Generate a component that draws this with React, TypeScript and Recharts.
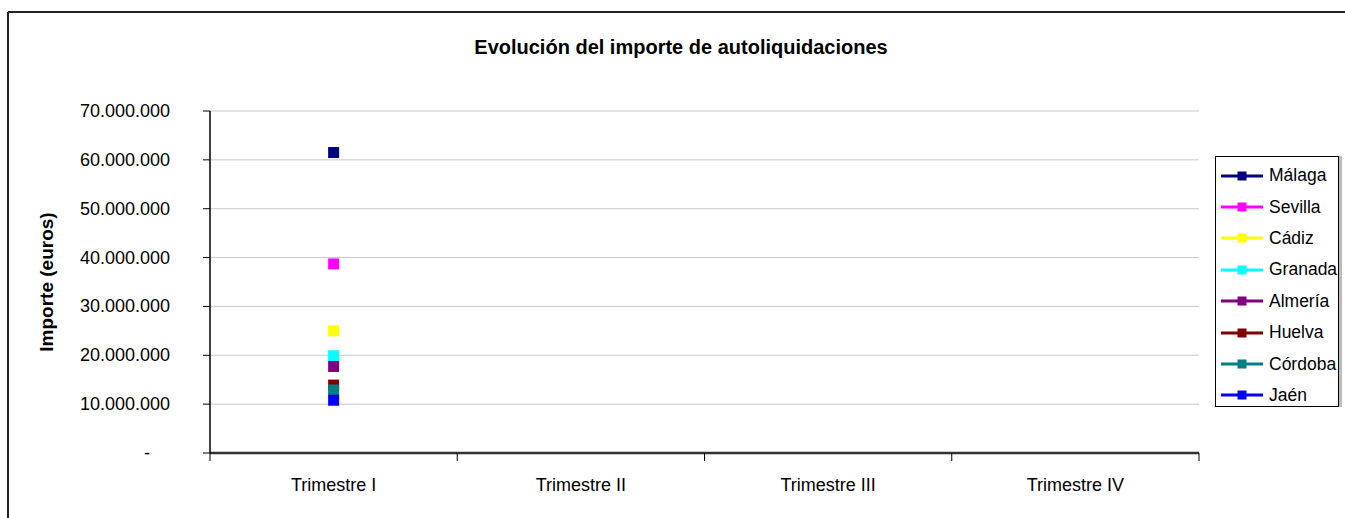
import React from "react";
import {
  LineChart, Line, XAxis, YAxis, CartesianGrid,
} from "recharts";

const categories = ["Trimestre I", "Trimestre II", "Trimestre III", "Trimestre IV"];
const yTicks = [0, 10000000, 20000000, 30000000, 40000000, 50000000, 60000000, 70000000];

// only the first quarter has values
const malaga = [61500000, null, null, null];
const sevilla = [38700000, null, null, null];
const cadiz = [25000000, null, null, null];
const granada = [19900000, null, null, null];
const almeria = [17700000, null, null, null];
const huelva = [13900000, null, null, null];
const cordoba = [12900000, null, null, null];
const jaen = [10800000, null, null, null];

const series = [
  { key: "Málaga", values: malaga, color: "#000080" },
  { key: "Sevilla", values: sevilla, color: "#FF00FF" },
  { key: "Cádiz", values: cadiz, color: "#FFFF00" },
  { key: "Granada", values: granada, color: "#00FFFF" },
  { key: "Almería", values: almeria, color: "#800080" },
  { key: "Huelva", values: huelva, color: "#800000" },
  { key: "Córdoba", values: cordoba, color: "#008080" },
  { key: "Jaén", values: jaen, color: "#0000FF" },
];

const data = categories.map((c, i) => {
  const row: any = { name: c };
  series.forEach((s) => { row[s.key] = s.values[i]; });
  return row;
});

const FONT = "'Liberation Sans', Arial, sans-serif";
const W = 1345;
const H = 518;
const MARGIN = { top: 111, right: 146, bottom: 0, left: 0 };
const Y_W = 210;
const X_H = 65;
const PLOT_W = W - MARGIN.left - MARGIN.right - Y_W;
const BAND = PLOT_W / categories.length;

const fmt = (v: number) => v.toLocaleString("de-DE");

const YTick = (props: any) => {
  const { x, y, payload } = props;
  const isZero = payload.value === 0;
  return (
    <text x={isZero ? x - 20 : x} y={y} dy={6} textAnchor="end" fontSize={18} fontFamily={FONT} fill="#000">
      {isZero ? "-" : fmt(payload.value)}
    </text>
  );
};

const XTick = (props: any) => {
  const { x, y, payload, index } = props;
  const left = x - BAND / 2;
  return (
    <g>
      <line x1={left} x2={left} y1={y} y2={y + 8} stroke="#000" strokeWidth={1} />
      {index === categories.length - 1 && (
        <line x1={x + BAND / 2} x2={x + BAND / 2} y1={y} y2={y + 8} stroke="#000" strokeWidth={1} />
      )}
      <text x={x} y={y + 38} textAnchor="middle" fontSize={18} fontFamily={FONT} fill="#000">
        {payload.value}
      </text>
    </g>
  );
};

const Square = (size: number, color: string) => (props: any) => {
  const { cx, cy, index } = props;
  if (cx == null || cy == null) return <g key={index} />;
  return <rect key={index} x={cx - size / 2} y={cy - size / 2} width={size} height={size} fill={color} />;
};

const LegendBox = () => (
  <div
    style={{
      position: "absolute", left: 1215, top: 156,
      boxSizing: "border-box", width: 124, height: 251, border: "1.5px solid #000",
      boxShadow: "3px 0 0 #bbb",
      background: "#fff", paddingTop: 3, fontFamily: FONT, fontSize: 17.5, overflow: "hidden",
    }}
  >
    {series.map((s) => (
      <div key={s.key} style={{ height: 31.4, flexShrink: 0, display: "flex", alignItems: "center" }}>
        <svg width={52} height={12} style={{ marginLeft: 4, flexShrink: 0 }}>
          <line x1={1} x2={43} y1={6} y2={6} stroke={s.color} strokeWidth={3} />
          <rect x={17.5} y={1.5} width={9} height={9} fill={s.color} />
        </svg>
        <span style={{ marginLeft: -3 }}>{s.key}</span>
      </div>
    ))}
  </div>
);

export default function App() {
  return (
    <div style={{ position: "absolute", left: 0, top: 0, width: W, height: H, background: "#fff", overflow: "hidden" }}>
      <svg width={W} height={H} style={{ position: "absolute", left: 0, top: 0 }}>
        <line x1={8} x2={W} y1={12} y2={12} stroke="#222" strokeWidth={2} />
        <line x1={8} x2={8} y1={12} y2={H} stroke="#222" strokeWidth={2} />
      </svg>
      <div
        style={{
          position: "absolute", left: 0, width: 1362, top: 36, textAlign: "center",
          fontFamily: FONT, fontWeight: "bold", fontSize: 20,
        }}
      >
        Evolución del importe de autoliquidaciones
      </div>
      <div
        style={{
          position: "absolute", left: 47, top: 282, transform: "translate(-50%, -50%) rotate(-90deg)",
          whiteSpace: "nowrap", fontFamily: FONT, fontWeight: "bold", fontSize: 19,
        }}
      >
        Importe (euros)
      </div>
      <div style={{ position: "absolute", left: 0, top: 0 }}>
        <LineChart width={W} height={H} data={data} margin={MARGIN}>
          <CartesianGrid vertical={false} stroke="#c8c8c8" strokeWidth={1} />
          <XAxis
            xAxisId="top" orientation="top" dataKey="name" height={0} tick={false} tickLine={false}
            axisLine={{ stroke: "#9a9a9a", strokeWidth: 2 }}
          />
          <YAxis
            yAxisId="right" orientation="right" width={0} tick={false} tickLine={false}
            axisLine={{ stroke: "#9a9a9a", strokeWidth: 2 }}
          />
          <XAxis
            dataKey="name" scale="band" height={X_H} tickLine={false} tickSize={0} tickMargin={0}
            axisLine={{ stroke: "#333", strokeWidth: 2.5 }} tick={<XTick />} interval={0}
          />
          <YAxis
            width={Y_W} domain={[0, 70000000]} ticks={yTicks} tickSize={7} tickMargin={33}
            axisLine={{ stroke: "#000", strokeWidth: 1.5 }} tickLine={{ stroke: "#000" }}
            tick={<YTick />} interval={0}
          />
          {series.map((s) => (
            <Line
              key={s.key} dataKey={s.key} stroke={s.color} strokeWidth={2}
              dot={Square(11, s.color)} activeDot={false} isAnimationActive={false}
            />
          ))}
        </LineChart>
      </div>
      <LegendBox />
    </div>
  );
}
